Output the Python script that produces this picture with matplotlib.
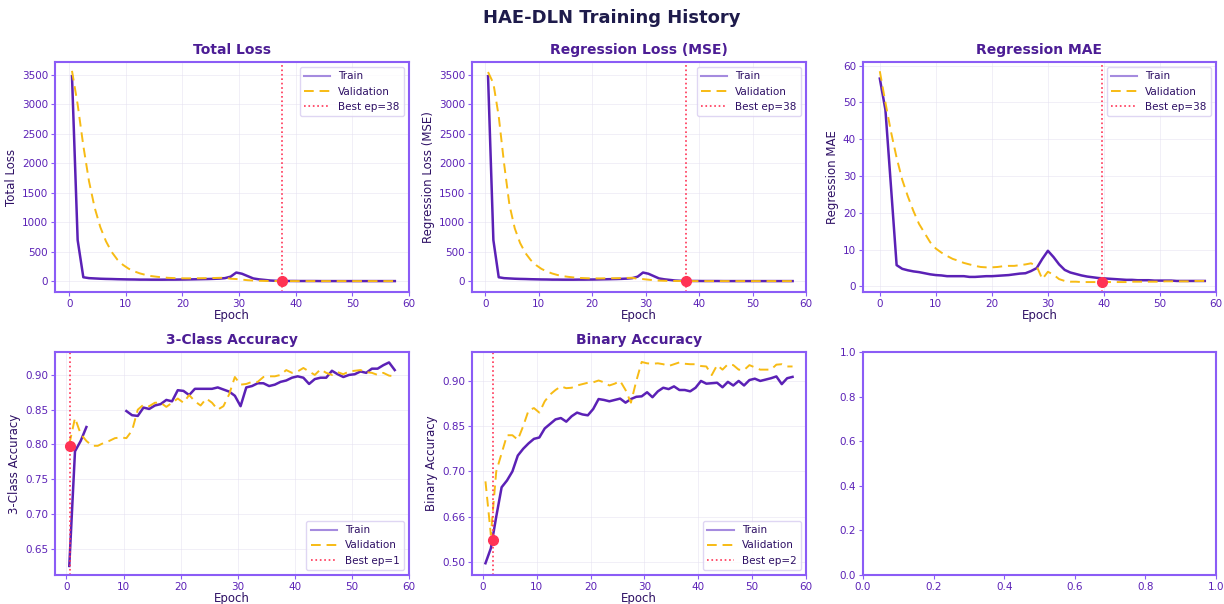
import numpy as np
import matplotlib
matplotlib.use("Agg")
import matplotlib.pyplot as plt
from matplotlib.lines import Line2D


# epoch positions as plotted (the MAE panel starts one half step earlier)
epochs = np.arange(58) + 0.5
epochs_mae = np.arange(59)

total_train = [3480, 700, 70, 55, 50, 45, 42, 40, 37, 35,
               33, 32, 30, 30, 29, 29, 29, 30, 30, 31,
               32, 34, 36, 38, 40, 43, 47, 55, 80, 150,
               130, 90, 50, 35, 25, 15, 10, 8, 7, 7,
               6, 6, 6, 6, 5, 5, 5, 5, 5, 5,
               5, 5, 5, 5, 5, 5, 5, 5]
total_val = [3570, 3000, 2300, 1700, 1250, 920, 680, 500, 370, 280,
             215, 170, 135, 110, 90, 78, 68, 60, 56, 53,
             52, 52, 53, 54, 55, 57, 60, 62, 45, 40,
             30, 20, 14, 10, 8, 7, 6, 5, 5, 5,
             5, 5, 5, 5, 5, 5, 5, 5, 5, 5,
             5, 5, 5, 5, 5, 5, 5, 5]

mse_train = total_train
mse_val = [3550, 3360, 2800, 2000, 1300, 900, 650, 480, 360, 275,
           212, 168, 134, 108, 89, 77, 67, 59, 55, 52,
           51, 51, 52, 53, 54, 56, 59, 61, 44, 39,
           29, 19, 13, 10, 8, 7, 6, 5, 5, 5,
           5, 5, 5, 5, 5, 5, 5, 5, 5, 5,
           5, 5, 5, 5, 5, 5, 5, 5]

mae_train = [56.5, 48, 27, 5.8, 4.8, 4.4, 4.1, 3.9, 3.6, 3.3,
             3.1, 3.0, 2.8, 2.8, 2.8, 2.8, 2.6, 2.6, 2.7, 2.8,
             2.8, 2.9, 3.0, 3.1, 3.3, 3.5, 3.6, 4.2, 5.0, 7.5,
             9.7, 8.0, 6.0, 4.5, 3.8, 3.4, 3.0, 2.7, 2.5, 2.3,
             2.2, 2.1, 2.0, 1.9, 1.8, 1.8, 1.7, 1.7, 1.7, 1.6,
             1.6, 1.6, 1.6, 1.5, 1.5, 1.5, 1.5, 1.5, 1.5]
mae_val = [58.5, 50, 42, 35, 29, 24.5, 20.5, 17, 14.5, 12,
           10.3, 9.2, 8.3, 7.5, 7.0, 6.4, 6.0, 5.6, 5.3, 5.2,
           5.2, 5.3, 5.5, 5.6, 5.6, 5.8, 6.0, 6.3, 5.5, 2.0,
           4.0, 3.2, 2.0, 1.5, 1.3, 1.3, 1.2, 1.2, 1.2, 1.2,
           1.2, 1.2, 1.2, 1.2, 1.2, 1.3, 1.3, 1.3, 1.3, 1.3,
           1.3, 1.4, 1.4, 1.4, 1.4, 1.4, 1.5, 1.5, 1.5]

nan = np.nan
acc3_train = [0.625, 0.79, 0.805, 0.825, nan, nan, nan, nan, nan, nan,
              0.848, 0.842, 0.841, 0.853, 0.851, 0.856, 0.858, 0.864, 0.862, 0.878,
              0.877, 0.871, 0.880, 0.880, 0.880, 0.880, 0.882, 0.879, 0.876, 0.870,
              0.855, 0.882, 0.884, 0.888, 0.888, 0.884, 0.886, 0.890, 0.892, 0.896,
              0.898, 0.896, 0.887, 0.894, 0.896, 0.896, 0.906, 0.901, 0.897, 0.900,
              0.901, 0.905, 0.903, 0.909, 0.909, 0.914, 0.918, 0.907]
acc3_val = [0.800, 0.838, 0.815, 0.805, 0.798, 0.798, 0.802, 0.805, 0.809, 0.810,
            0.809, 0.820, 0.850, 0.857, 0.855, 0.860, 0.860, 0.854, 0.860, 0.866,
            0.860, 0.871, 0.862, 0.856, 0.866, 0.860, 0.850, 0.855, 0.872, 0.897,
            0.886, 0.887, 0.890, 0.890, 0.897, 0.898, 0.898, 0.900, 0.907, 0.903,
            0.905, 0.910, 0.905, 0.900, 0.908, 0.903, 0.900, 0.904, 0.901, 0.905,
            0.906, 0.907, 0.904, 0.903, 0.900, 0.903, 0.899, 0.898]

bin_train = [0.497, 0.530, 0.600, 0.665, 0.680, 0.700, 0.735, 0.750, 0.762, 0.772,
             0.775, 0.795, 0.805, 0.815, 0.818, 0.810, 0.822, 0.830, 0.826, 0.824,
             0.838, 0.860, 0.858, 0.855, 0.858, 0.861, 0.852, 0.860, 0.865, 0.866,
             0.875, 0.864, 0.877, 0.885, 0.882, 0.888, 0.880, 0.880, 0.877, 0.885,
             0.900, 0.894, 0.895, 0.896, 0.886, 0.898, 0.890, 0.900, 0.890, 0.902,
             0.905, 0.900, 0.903, 0.906, 0.910, 0.893, 0.906, 0.909]
bin_val = [0.678, 0.560, 0.700, 0.740, 0.780, 0.780, 0.770, 0.800, 0.835, 0.840,
           0.830, 0.855, 0.870, 0.880, 0.888, 0.884, 0.885, 0.890, 0.893, 0.896,
           0.897, 0.901, 0.897, 0.890, 0.894, 0.900, 0.880, 0.852, 0.900, 0.942,
           0.939, 0.938, 0.939, 0.937, 0.933, 0.937, 0.941, 0.938, 0.937, 0.937,
           0.933, 0.932, 0.913, 0.935, 0.925, 0.937, 0.935, 0.925, 0.924, 0.935,
           0.930, 0.925, 0.925, 0.925, 0.936, 0.937, 0.932, 0.932]

# best-epoch markers: (line x, label, marker y)
best_total = (37.5, 'Best ep=38', 5)
best_mse = (37.5, 'Best ep=38', 5)
best_mae = (39.7, 'Best ep=38', 1.1)
best_acc3 = (0.6, 'Best ep=1', 0.797)
best_bin = (1.9, 'Best ep=2', 0.549)

bin_ticks = [0.50, 0.60, 0.70, 0.80, 0.90]
bin_ticklabels = ['0.50', '0.66', '0.70', '0.85', '0.90']

C_TRAIN = '#5b21b6'
C_TRAIN_LEG = '#a58bdf'
C_VAL = '#f7bb14'
C_BEST = '#ff3355'
C_SPINE = '#8b5cf6'
C_TICK = '#5b21b6'
C_TITLE = '#4c1d95'
C_LABEL = '#2e1065'


def style_axes(ax):
    for s in ax.spines.values():
        s.set_color(C_SPINE)
        s.set_linewidth(1.5)
    ax.tick_params(colors=C_SPINE, labelsize=7.5, labelcolor=C_TICK, pad=2, length=3)
    ax.grid(True, color='#e5e0f0', alpha=0.6, linewidth=0.6)


def draw_panel(ax, x, train, val, best, title, ylabel, loc):
    style_axes(ax)
    ax.plot(x, train, color=C_TRAIN, linewidth=1.8)
    ax.plot(x, val, color=C_VAL, linewidth=1.4, linestyle=(0, (5, 3)))
    bx, blabel, by = best
    ax.axvline(bx, color=C_BEST, linestyle=':', linewidth=1.2)
    ax.plot([bx], [by], 'o', color=C_BEST, markersize=7, zorder=5)
    ax.set_title(title, fontsize=10, fontweight='bold', color=C_TITLE, pad=6)
    ax.set_xlabel('Epoch', fontsize=8.5, color=C_LABEL, labelpad=0)
    ax.set_ylabel(ylabel, fontsize=8.5, color=C_LABEL, labelpad=3)
    ax.set_xlim(-2.5, 60)
    ax.set_xticks([0, 10, 20, 30, 40, 50, 60])
    handles = [Line2D([], [], color=C_TRAIN_LEG, linewidth=1.5),
               Line2D([], [], color=C_VAL, linewidth=1.4, linestyle=(0, (5, 3))),
               Line2D([], [], color=C_BEST, linewidth=1.2, linestyle=':')]
    leg = ax.legend(handles, ['Train', 'Validation', blabel], loc=loc,
                    fontsize=7.5, frameon=True, handlelength=2.5)
    leg.get_frame().set_edgecolor('#d8ccf0')
    for t in leg.get_texts():
        t.set_color(C_LABEL)


fig = plt.figure(figsize=(12.24, 6.04), dpi=100)
W, H = 1224, 604


def add_ax(l, t, r, b):
    return fig.add_axes([l / W, 1 - b / H, (r - l) / W, (b - t) / H])


ax1 = add_ax(55, 62, 409, 292)
ax2 = add_ax(472, 62, 806, 292)
ax3 = add_ax(863, 62, 1216, 292)
ax4 = add_ax(55, 352, 409, 575)
ax5 = add_ax(472, 352, 806, 575)
ax6 = add_ax(863, 352, 1216, 575)

draw_panel(ax1, epochs, total_train, total_val, best_total, 'Total Loss', 'Total Loss', 'upper right')
ax1.set_ylim(-180, 3720)
draw_panel(ax2, epochs, mse_train, mse_val, best_mse, 'Regression Loss (MSE)', 'Regression Loss (MSE)', 'upper right')
ax2.set_ylim(-180, 3720)
draw_panel(ax3, epochs_mae, mae_train, mae_val, best_mae, 'Regression MAE', 'Regression MAE', 'upper right')
ax3.set_ylim(-1.5, 61)
ax3.set_xlim(-3, 60)
draw_panel(ax4, epochs, acc3_train, acc3_val, best_acc3, '3-Class Accuracy', '3-Class Accuracy', 'lower right')
ax4.set_ylim(0.612, 0.933)
ax4.set_xlim(-2, 60)
draw_panel(ax5, epochs, bin_train, bin_val, best_bin, 'Binary Accuracy', 'Binary Accuracy', 'lower right')
ax5.set_ylim(0.471, 0.964)
ax5.set_xlim(-2, 60)
ax5.set_yticks(bin_ticks)
ax5.set_yticklabels(bin_ticklabels)

style_axes(ax6)
ax6.grid(False)

fig.suptitle('HAE-DLN Training History', fontsize=13, fontweight='bold', color='#1e1b4b', y=0.985)

fig.savefig('out.png', dpi=100, facecolor='white')
